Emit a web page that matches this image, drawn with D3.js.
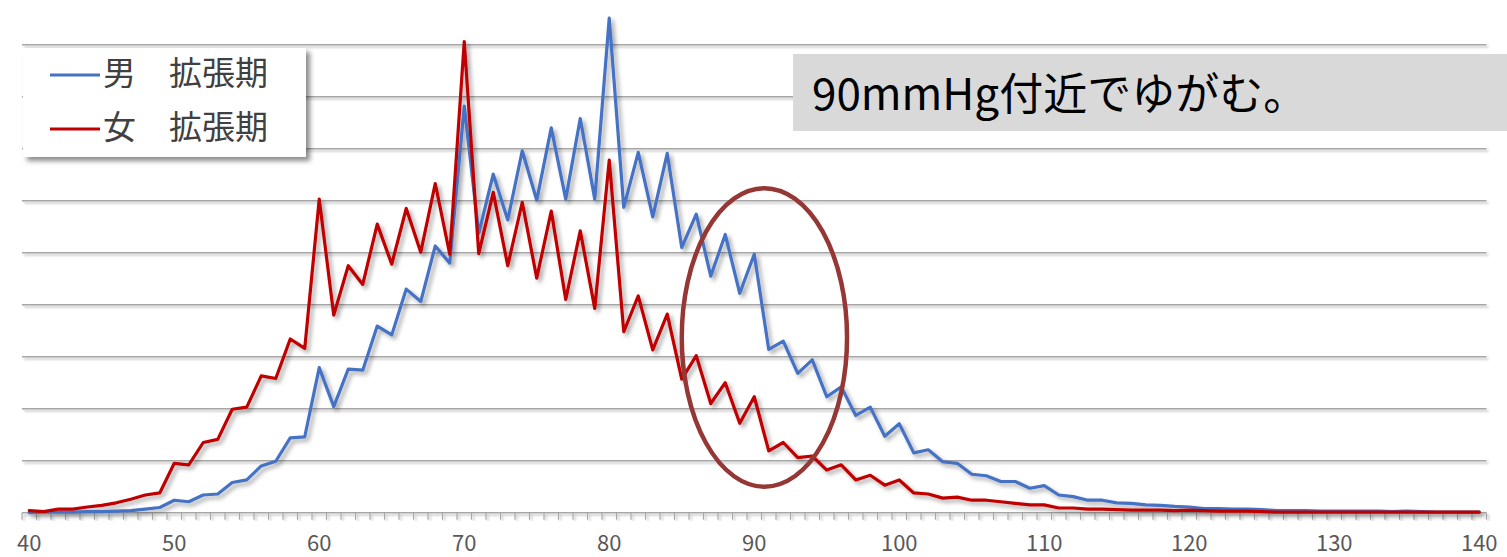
<!DOCTYPE html>
<html>
<head>
<meta charset="utf-8">
<script src="https://cdn.jsdelivr.net/npm/d3@7"></script>
<style>
  html, body { margin: 0; padding: 0; background: #fff; }
  svg { display: block; }
</style>
</head>
<body>
<svg id="chart" width="1507" height="557"></svg>
<script>
// ---- data ----
const categories = [40,41,42,43,44,45,46,47,48,49,50,51,52,53,54,55,56,57,58,59,60,61,62,63,64,65,66,67,68,69,70,71,72,73,74,75,76,77,78,79,80,81,82,83,84,85,86,87,88,89,90,91,92,93,94,95,96,97,98,99,100,101,102,103,104,105,106,107,108,109,110,111,112,113,114,115,116,117,118,119,120,121,122,123,124,125,126,127,128,129,130,131,132,133,134,135,136,137,138,139,140];

const maleDiastolic = [0.00,0.01,0.01,0.01,0.02,0.02,0.03,0.04,0.07,0.10,
  0.24,0.21,0.34,0.36,0.58,0.63,0.90,0.99,1.44,1.46,
  2.79,2.04,2.76,2.74,3.59,3.42,4.30,4.06,5.13,4.80,
  7.82,5.37,6.51,5.63,6.96,6.01,7.40,6.03,7.58,6.03,
  9.51,5.87,6.93,5.69,6.91,5.10,5.74,4.55,5.35,4.22,
  4.97,3.14,3.30,2.68,2.94,2.23,2.42,1.87,2.03,1.47,
  1.71,1.15,1.21,0.98,0.95,0.74,0.71,0.60,0.60,0.47,
  0.52,0.34,0.31,0.24,0.24,0.19,0.18,0.15,0.14,0.12,
  0.11,0.08,0.08,0.07,0.07,0.06,0.04,0.04,0.04,0.03,
  0.03,0.03,0.03,0.03,0.02,0.03,0.02,0.01,0.01,0.01,0.01];

const femaleDiastolic = [0.04,0.02,0.07,0.07,0.11,0.14,0.19,0.26,0.34,0.38,
  0.95,0.92,1.35,1.41,1.99,2.03,2.63,2.58,3.34,3.16,
  6.03,3.80,4.75,4.39,5.55,4.78,5.85,5.01,6.33,4.97,
  9.06,4.98,6.16,4.75,5.97,4.51,5.80,4.10,5.42,3.93,
  6.78,3.48,4.17,3.13,3.82,2.57,3.02,2.10,2.50,1.72,
  2.23,1.19,1.35,1.06,1.09,0.82,0.92,0.63,0.72,0.53,
  0.63,0.38,0.36,0.28,0.30,0.24,0.24,0.21,0.18,0.15,
  0.15,0.09,0.09,0.07,0.07,0.06,0.05,0.05,0.05,0.04,
  0.05,0.04,0.03,0.03,0.03,0.02,0.01,0.01,0.01,0.01,
  0.01,0.01,0.01,0.01,0.01,0.01,0.01,0.01,0.01,0.01,0.01];

const tickLabels = ["40","50","60","70","80","90","100","110","120","130","140"];
const gridValues = [1,2,3,4,5,6,7,8,9];
const seriesNames = ["男　拡張期", "女　拡張期"];
const seriesColors = ["#4472C4", "#C00000"];
const annotationText = "90mmHg付近でゆがむ。";
// highlighted region (data units): centre at 90.7 mmHg, level 3.37; half-widths
const ellipseSpec = { cx: 90.7, cy: 3.37, rx: 5.7, ry: 2.87 };

// ---- layout ----
const svg = d3.select("#chart");
const plot = { left: 22, right: 1486.5, top: 44.7, bottom: 512.7 };

const x = d3.scaleBand().domain(categories).range([plot.left, plot.right]).padding(0);
const xc = d => x(d) + x.bandwidth() / 2;
const xLin = d3.scaleLinear().domain([40, 140]).range([xc(40), xc(140)]);
const y = d3.scaleLinear().domain([0, 9]).range([plot.bottom, plot.top]);

// filters
const defs = svg.append("defs");
function shadow(id, dx, dy, blur, op) {
  const f = defs.append("filter").attr("id", id)
    .attr("x", "-5%").attr("y", "-5%").attr("width", "115%").attr("height", "120%");
  f.append("feGaussianBlur").attr("in", "SourceAlpha").attr("stdDeviation", blur).attr("result", "b");
  f.append("feOffset").attr("in", "b").attr("dx", dx).attr("dy", dy).attr("result", "o");
  f.append("feFlood").attr("flood-color", "#000").attr("flood-opacity", op).attr("result", "c");
  f.append("feComposite").attr("in", "c").attr("in2", "o").attr("operator", "in").attr("result", "s");
  const m = f.append("feMerge");
  m.append("feMergeNode").attr("in", "s");
  m.append("feMergeNode").attr("in", "SourceGraphic");
}
shadow("lineShadow", 3, 3, 2.2, 0.35);
shadow("gridShadow", 1.5, 1.5, 1.2, 0.25);
shadow("boxShadow", 4, 4, 2.5, 0.45);

// gridlines
svg.append("g").attr("filter", "url(#gridShadow)")
  .selectAll("line").data(gridValues).join("line")
  .attr("x1", plot.left).attr("x2", plot.right)
  .attr("y1", d => y(d)).attr("y2", d => y(d))
  .attr("stroke", "#a6a6a6").attr("stroke-width", 1.6);

// x axis
const xAxis = d3.axisBottom(x).tickSize(0).tickFormat("");
const axG = svg.append("g").attr("transform", `translate(0,${plot.bottom})`).attr("filter", "url(#gridShadow)");
axG.call(xAxis);
axG.select(".domain").attr("stroke", "#a6a6a6").attr("stroke-width", 1.6)
  .attr("d", `M${plot.left},0H${plot.right}`);
const boundaries = categories.map(d => x(d)).concat([plot.right]);
axG.selectAll("line.tk").data(boundaries).join("line").attr("class", "tk")
  .attr("x1", d => d).attr("x2", d => d).attr("y1", 0).attr("y2", 7)
  .attr("stroke", "#a6a6a6").attr("stroke-width", 1.2);

svg.append("g").selectAll("text").data(tickLabels).join("text")
  .attr("x", d => xc(+d)).attr("y", 551)
  .attr("text-anchor", "middle")
  .attr("font-family", "'Noto Sans CJK JP', 'Noto Sans', sans-serif")
  .attr("font-size", 22).attr("fill", "#595959")
  .text(d => d);

// series lines
const line = d3.line().x((d, i) => xc(categories[i])).y(d => y(d));
const seriesG = svg.append("g").attr("filter", "url(#lineShadow)");
[maleDiastolic, femaleDiastolic].forEach((vals, k) => {
  seriesG.append("path").datum(vals)
    .attr("d", line).attr("fill", "none")
    .attr("stroke", seriesColors[k]).attr("stroke-width", 3.2)
    .attr("stroke-linejoin", "round").attr("stroke-linecap", "round");
});

// ellipse annotation
svg.append("ellipse")
  .attr("cx", xLin(ellipseSpec.cx)).attr("cy", y(ellipseSpec.cy))
  .attr("rx", xLin(ellipseSpec.cx + ellipseSpec.rx) - xLin(ellipseSpec.cx))
  .attr("ry", y(0) - y(ellipseSpec.ry))
  .attr("fill", "none").attr("stroke", "#953735").attr("stroke-width", 4.5);

// legend
const lg = svg.append("g");
lg.append("rect").attr("x", 23).attr("y", 48).attr("width", 283).attr("height", 109)
  .attr("fill", "#fff").attr("filter", "url(#boxShadow)");
const legY = [75, 129];
seriesNames.forEach((name, k) => {
  lg.append("line").attr("x1", 50).attr("x2", 100).attr("y1", legY[k]).attr("y2", legY[k])
    .attr("stroke", seriesColors[k]).attr("stroke-width", 3);
  lg.append("text").attr("x", 103).attr("y", legY[k] - 2).attr("dy", "0.35em")
    .attr("font-family", "'Noto Sans CJK JP', sans-serif")
    .attr("font-size", 33).attr("fill", "#404040")
    .text(name);
});

// text annotation box
svg.append("rect").attr("x", 793).attr("y", 54).attr("width", 714).attr("height", 77)
  .attr("fill", "#d9d9d9");
svg.append("text").attr("x", 812).attr("y", 110)
  .attr("font-family", "'Noto Sans CJK JP', sans-serif")
  .attr("font-size", 44).attr("fill", "#000")
  .text(annotationText);
</script>
</body>
</html>
